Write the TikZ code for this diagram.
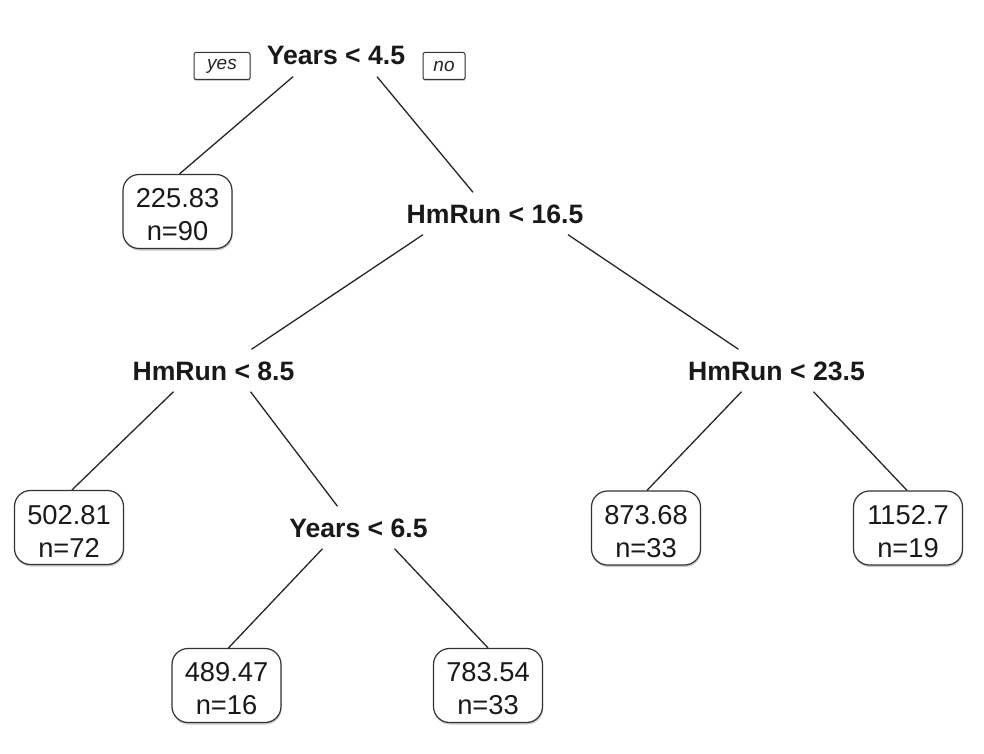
\documentclass[tikz,border=0pt]{standalone}
\usepackage{fontspec}
\setmainfont{Liberation Sans}
\usetikzlibrary{shadows}
\newcommand{\lf}[2]{\rule{0pt}{26pt}#1\\#2}
\begin{document}
\begin{tikzpicture}[x=1pt,y=-1pt,
  split/.style={font=\bfseries\fontsize{26.6}{26}\selectfont, text height=19pt, text depth=0pt,
    inner xsep=0pt, inner ysep=11.5pt, text=black!90},
  leaf/.style={draw=black!80, line width=1.2pt, fill=white, rounded corners=16pt,
    minimum width=109pt, minimum height=74pt, inner sep=0pt, align=center,
    font=\fontsize{27.3}{33}\selectfont, text=black!90,
    drop shadow={shadow xshift=0.6pt, shadow yshift=-2pt, fill=black!35, opacity=0.6}},
  tag/.style={draw=black!80, line width=1pt, fill=white, rounded corners=2pt,
    minimum height=27pt, inner sep=0pt, font=\itshape\fontsize{19}{19}\selectfont, text=black!85,
    drop shadow={shadow xshift=0.5pt, shadow yshift=-1.5pt, fill=black!35, opacity=0.6}},
  edge/.style={draw=black!85, line width=1.3pt}]
\useasboundingbox (0,0) rectangle (984,754);
\fill[white] (0,0) rectangle (984,754);

\node[split] (root) at (336,55.5) {Years < 4.5};
\node[split] (s2) at (495,213.5) {HmRun < 16.5};
\node[split] (s3) at (213.5,370.5) {HmRun < 8.5};
\node[split] (s4) at (776.5,370.5) {HmRun < 23.5};
\node[split] (s5) at (358.5,527.5) {Years < 6.5};

\node[tag, minimum width=56pt] (yes) at (222,66) {yes};
\node[tag, minimum width=42pt] (no) at (444,66) {no};

\node[leaf] (l1) at (177.5,211.5) {\lf{225.83}{n=90}};
\node[leaf] (l2) at (69,527.5) {\lf{502.81}{n=72}};
\node[leaf] (l3) at (226.5,685.5) {\lf{489.47}{n=16}};
\node[leaf] (l4) at (488,685.5) {\lf{783.54}{n=33}};
\node[leaf] (l5) at (646,528) {\lf{873.68}{n=33}};
\node[leaf] (l6) at (908,528) {\lf{1152.7}{n=19}};

\draw[edge] ([xshift=-43pt]root.south) -- ([xshift=2pt]l1.north);
\draw[edge] ([xshift=41pt]root.south) -- ([xshift=-22pt]s2.north);
\draw[edge] ([xshift=-72pt]s2.south) -- ([xshift=38pt]s3.north);
\draw[edge] ([xshift=73pt]s2.south) -- ([xshift=-38pt]s4.north);
\draw[edge] ([xshift=-40pt]s3.south) -- ([xshift=3pt]l2.north);
\draw[edge] ([xshift=37pt]s3.south) -- ([xshift=-21pt]s5.north);
\draw[edge] ([xshift=-36pt]s5.south) -- ([xshift=2pt]l3.north);
\draw[edge] ([xshift=36pt]s5.south) -- (l4.north);
\draw[edge] ([xshift=-35pt]s4.south) -- ([xshift=1pt]l5.north);
\draw[edge] ([xshift=37pt]s4.south) -- ([xshift=-1pt]l6.north);
\end{tikzpicture}
\end{document}
